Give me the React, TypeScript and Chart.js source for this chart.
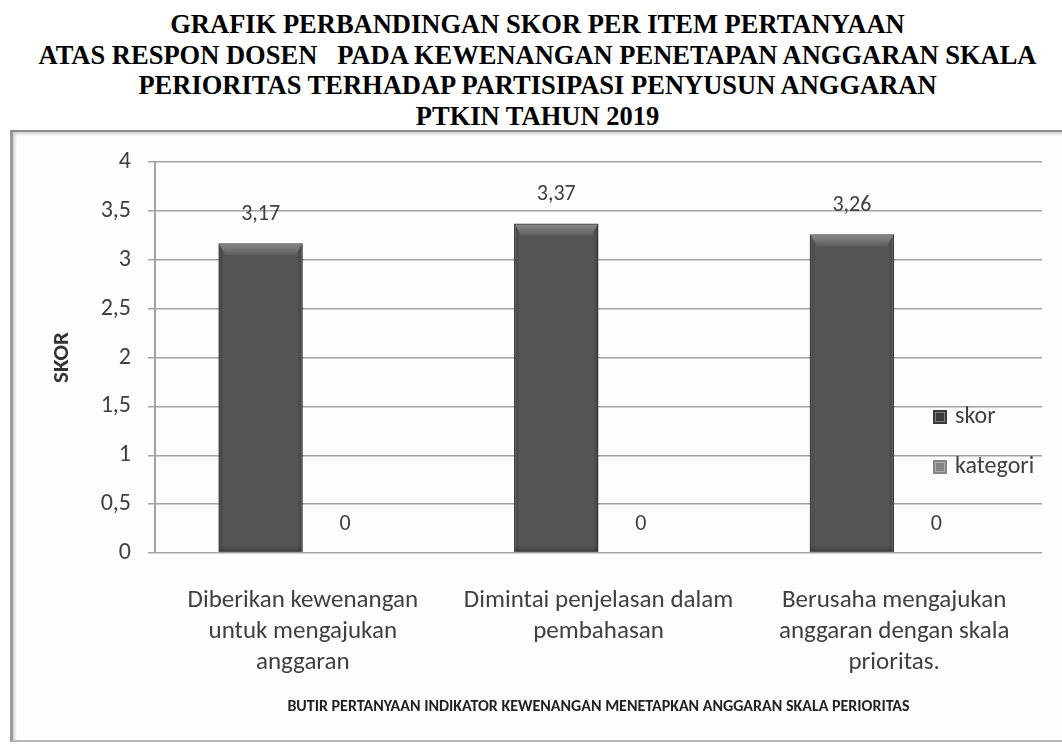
import React, { useEffect, useRef } from "react";
import { Chart, registerables } from "chart.js";

Chart.register(...registerables);

const titleLines = [
  "GRAFIK PERBANDINGAN SKOR PER ITEM PERTANYAAN",
  "ATAS RESPON DOSEN   PADA KEWENANGAN PENETAPAN ANGGARAN SKALA",
  "PERIORITAS TERHADAP PARTISIPASI PENYUSUN ANGGARAN",
  "PTKIN TAHUN 2019",
];
const categories = [
  ["Diberikan kewenangan", "untuk mengajukan", "anggaran"],
  ["Dimintai penjelasan dalam", "pembahasan"],
  ["Berusaha mengajukan", "anggaran dengan skala", "prioritas."],
];
const seriesNames = ["skor", "kategori"];
const skorValues = [3.17, 3.37, 3.26];
const kategoriValues = [0, 0, 0];
const yTickValues = [0, 0.5, 1, 1.5, 2, 2.5, 3, 3.5, 4];
const yTickLabels = ["0", "0,5", "1", "1,5", "2", "2,5", "3", "3,5", "4"];
const yTitle = "SKOR";
const xTitle = "BUTIR PERTANYAAN INDIKATOR KEWENANGAN MENETAPKAN ANGGARAN SKALA PERIORITAS";

const FONT = "Carlito, Calibri, Lato, sans-serif";
const TEXT = "#404040";

const fmt = (v: number) => (v === 0 ? "0" : v.toFixed(2).replace(".", ","));

const decorPlugin = {
  id: "decor",
  afterDatasetsDraw(chart: any) {
    const ctx = chart.ctx;
    const meta = chart.getDatasetMeta(0);
    meta.data.forEach((bar: any) => {
      const { x, y, base, width } = bar.getProps(["x", "y", "base", "width"], true);
      const l = x - width / 2;
      const r = x + width / 2;
      ctx.save();
      const gs = ctx.createLinearGradient(l, 0, r, 0);
      gs.addColorStop(0, "rgba(0,0,0,0.22)");
      gs.addColorStop(0.07, "rgba(0,0,0,0)");
      gs.addColorStop(0.93, "rgba(0,0,0,0)");
      gs.addColorStop(1, "rgba(0,0,0,0.22)");
      ctx.fillStyle = gs;
      ctx.fillRect(l + 1, y + 1, width - 2, base - y - 2);
      const gb = ctx.createLinearGradient(0, base - 8, 0, base);
      gb.addColorStop(0, "rgba(0,0,0,0)");
      gb.addColorStop(1, "rgba(0,0,0,0.2)");
      ctx.fillStyle = gb;
      ctx.fillRect(l + 1, base - 8, width - 2, 7);
      const g = ctx.createLinearGradient(0, y, 0, y + 12);
      g.addColorStop(0, "#8a8a8a");
      g.addColorStop(1, "#5e5e5e");
      ctx.fillStyle = g;
      ctx.beginPath();
      ctx.moveTo(l + 1, y + 1);
      ctx.lineTo(r - 1, y + 1);
      ctx.lineTo(r - 7, y + 12);
      ctx.lineTo(l + 7, y + 12);
      ctx.closePath();
      ctx.fill();
      ctx.restore();
    });

    ctx.save();
    ctx.font = `22px ${FONT}`;
    ctx.fillStyle = TEXT;
    ctx.textAlign = "center";
    ctx.textBaseline = "middle";
    chart.data.datasets.forEach((ds: any, di: number) => {
      const m = chart.getDatasetMeta(di);
      m.data.forEach((bar: any, i: number) => {
        ctx.fillText(fmt(ds.data[i]), bar.x, bar.y - 29);
      });
    });
    ctx.restore();
  },
  afterDraw(chart: any) {
    const ctx = chart.ctx;
    const items = chart.data.datasets.map((ds: any) => ({ text: ds.label, color: ds.legendColor }));
    ctx.save();
    ctx.font = `24px ${FONT}`;
    ctx.textBaseline = "middle";
    ctx.textAlign = "left";
    items.forEach((it: any, i: number) => {
      const cy = 287 + i * 50;
      ctx.fillStyle = it.color;
      ctx.fillRect(933, cy - 7, 14, 14);
      ctx.strokeStyle = "rgba(255,255,255,0.35)";
      ctx.lineWidth = 1;
      ctx.strokeRect(935.5, cy - 4.5, 9, 9);
      ctx.fillStyle = TEXT;
      ctx.fillText(it.text, 955, cy);
    });
    ctx.restore();
  },
};

export default function App() {
  const ref = useRef<HTMLCanvasElement | null>(null);

  useEffect(() => {
    document.body.style.margin = "0";
    const canvas = ref.current;
    if (!canvas) return;
    const chart = new Chart(canvas, {
      type: "bar",
      data: {
        labels: categories,
        datasets: [
          {
            label: seriesNames[0],
            data: skorValues,
            backgroundColor: "#555555",
            borderColor: "#3a3a3a",
            borderWidth: 1.5,
            legendColor: "#3a3a3a",
          } as any,
          {
            label: seriesNames[1],
            data: kategoriValues,
            backgroundColor: "#8a8a8a",
            borderWidth: 0,
            legendColor: "#858585",
          } as any,
        ],
      },
      options: {
        animation: false,
        responsive: false,
        maintainAspectRatio: false,
        layout: { padding: { top: 32, right: 20, left: 0, bottom: 0 } },
        plugins: { legend: { display: false }, tooltip: { enabled: false } },
        datasets: { bar: { categoryPercentage: 2 / 3.5, barPercentage: 1 } },
        scales: {
          x: {
            grid: { display: false, drawTicks: false },
            border: { display: false },
            ticks: {
              font: { family: FONT, size: 25, lineHeight: 1.24 },
              color: TEXT,
              padding: 32,
              maxRotation: 0,
              autoSkip: false,
            },
            title: {
              display: true,
              text: xTitle,
              font: { family: FONT, size: 16, weight: "bold" },
              color: "#222222",
              padding: { top: 0, bottom: 28 },
            },
            afterFit(s: any) {
              s.height = 192;
            },
          },
          y: {
            min: 0,
            max: 4,
            ticks: {
              stepSize: 0.5,
              callback: (v: any) => {
                const i = yTickValues.indexOf(Number(v));
                return i >= 0 ? yTickLabels[i] : "";
              },
              font: { family: FONT, size: 24 },
              color: TEXT,
              padding: 17,
            },
            grid: { color: "#a3a3a3", lineWidth: 1.5, tickLength: 7, drawTicks: true },
            border: { display: true, color: "#a3a3a3", width: 2 },
            title: {
              display: true,
              text: yTitle,
              font: { family: FONT, size: 23, weight: "bold" },
              color: "#333333",
              padding: { top: 48, bottom: 0 },
            },
            afterFit(s: any) {
              s.width = 155;
            },
          },
        },
      } as any,
      plugins: [decorPlugin],
    });
    return () => chart.destroy();
  }, []);

  return (
    <div style={{ position: "absolute", left: 0, top: 0, width: 1062, height: 745, background: "#ffffff", overflow: "hidden" }}>
      <div
        style={{
          position: "absolute",
          left: 13,
          top: 9,
          width: 1049,
          textAlign: "center",
          fontFamily: "'Liberation Serif', 'Times New Roman', serif",
          fontWeight: "bold",
          fontSize: "26.5px",
          lineHeight: "30.5px",
          whiteSpace: "pre",
          color: "#000",
        }}
      >
        {titleLines.map((t, i) => (
          <div key={i}>{t}</div>
        ))}
      </div>
      <div
        style={{
          position: "absolute",
          left: 10,
          top: 130,
          width: 1070,
          height: 608,
          background: "#fdfdfd",
          borderLeft: "3px solid #9a9a9a",
          borderTop: "2px solid #8c8c8c",
          borderBottom: "2px solid #b5b5b5",
          boxShadow: "inset 2px 2px 3px rgba(0,0,0,0.18)",
        }}
      />
      <canvas
        ref={ref}
        width={1062}
        height={615}
        style={{ position: "absolute", left: 0, top: 130, width: 1062, height: 615 }}
      />
    </div>
  );
}
